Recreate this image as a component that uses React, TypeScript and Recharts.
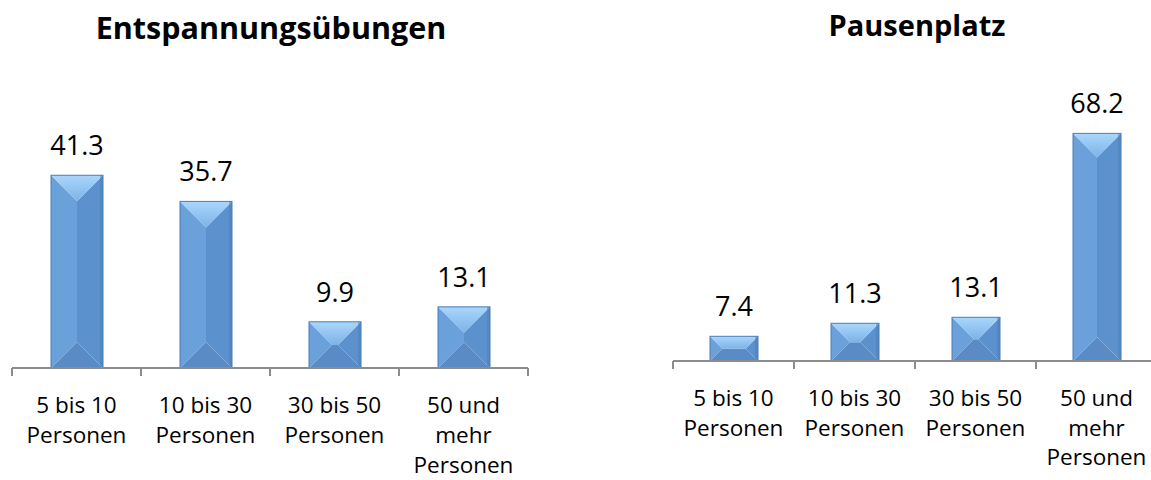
import React from 'react';
import { BarChart, Bar, XAxis, YAxis, LabelList } from 'recharts';

const categories = ['5 bis 10 Personen', '10 bis 30 Personen', '30 bis 50 Personen', '50 und mehr Personen'];
const categoryLines = [
  ['5 bis 10', 'Personen'],
  ['10 bis 30', 'Personen'],
  ['30 bis 50', 'Personen'],
  ['50 und', 'mehr', 'Personen'],
];
const entspannungValues = [41.3, 35.7, 9.9, 13.1];
const pausenplatzValues = [7.4, 11.3, 13.1, 68.2];
const chartTitles = ['Entspannungsübungen', 'Pausenplatz'];

const leftData = categories.map((c, i) => ({ category: c, value: entspannungValues[i] }));
const rightData = categories.map((c, i) => ({ category: c, value: pausenplatzValues[i] }));

const FONT = '"Open Sans", sans-serif';
const AXIS_COLOR = '#8c8c8c';
const TICK_SIZE = 8;

const BevelBar = (props: any) => {
  const { x, y, width, height } = props;
  if (!width || !height || height <= 0) return null;
  const d = Math.min(width, height) / 2;
  const x2 = x + width;
  const y2 = y + height;
  const top = `${x},${y} ${x2},${y} ${x2 - d},${y + d} ${x + d},${y + d}`;
  const right = `${x2},${y} ${x2},${y2} ${x2 - d},${y2 - d} ${x2 - d},${y + d}`;
  const bottom = `${x},${y2} ${x2},${y2} ${x2 - d},${y2 - d} ${x + d},${y2 - d}`;
  const left = `${x},${y} ${x},${y2} ${x + d},${y2 - d} ${x + d},${y + d}`;
  return (
    <g>
      <polygon points={left} fill="#6aa1da" />
      <polygon points={right} fill="#5b91cc" />
      <polygon points={bottom} fill="#5a8bc4" />
      <polygon points={top} fill="url(#bevelTop)" />
      <rect x={x + width - 3} y={y} width={3} height={height} fill="#4f7fb6" opacity={0.5} />
      <rect x={x} y={y} width={width} height={height} fill="none" stroke="#4a7db8" strokeWidth={1} />
    </g>
  );
};

const makeTick = (lineHeight: number) => (props: any) => {
  const { x, y, payload, visibleTicksCount } = props;
  const idx = categories.indexOf(payload.value);
  const lines = idx >= 0 ? categoryLines[idx] : [String(payload.value)];
  const half = payload.offset ?? 60;
  const axisY = y - TICK_SIZE;
  const isLast = idx === (visibleTicksCount ?? categories.length) - 1;
  return (
    <g>
      <line x1={x - half} x2={x - half} y1={axisY} y2={axisY + TICK_SIZE} stroke={AXIS_COLOR} strokeWidth={2} />
      {isLast && (
        <line x1={x + half} x2={x + half} y1={axisY} y2={axisY + TICK_SIZE} stroke={AXIS_COLOR} strokeWidth={2} />
      )}
      <text x={x} y={axisY + 45} textAnchor="middle" fontFamily={FONT} fontSize={22.5} fill="#000">
        {lines.map((l, i) => (
          <tspan key={i} x={x} dy={i === 0 ? 0 : lineHeight}>
            {l}
          </tspan>
        ))}
      </text>
    </g>
  );
};

const Defs = () => (
  <svg width={0} height={0} style={{ position: 'absolute' }}>
    <defs>
      <linearGradient id="bevelTop" x1="0" y1="0" x2="0" y2="1">
        <stop offset="0%" stopColor="#a9d6fc" />
        <stop offset="100%" stopColor="#7db3e8" />
      </linearGradient>
    </defs>
  </svg>
);

const valueFormat = (v: any) => Number(v).toFixed(1);

export default function App() {
  return (
    <div style={{ position: 'absolute', left: 0, top: 0, width: 1151, height: 480, overflow: 'hidden', background: '#fff' }}>
      <Defs />
      <div style={{ position: 'absolute', left: 0, top: 0, width: 560, height: 480 }}>
        <BarChart width={560} height={480} data={leftData} margin={{ top: 158, right: 32, bottom: 0, left: 12 }} barSize={52}>
          <XAxis
            dataKey="category"
            height={112}
            interval={0}
            tickSize={TICK_SIZE}
            tickMargin={0}
            tickLine={false}
            axisLine={{ stroke: AXIS_COLOR, strokeWidth: 2 }}
            tick={makeTick(30)}
          />
          <YAxis hide domain={[0, 45]} />
          <Bar dataKey="value" shape={<BevelBar />} isAnimationActive={false}>
            <LabelList dataKey="value" position="top" offset={20} formatter={valueFormat} fontFamily={FONT} fontSize={27} fill="#000" />
          </Bar>
        </BarChart>
      </div>
      <div style={{ position: 'absolute', left: 660, top: 0, width: 491, height: 480, overflow: 'hidden' }}>
        <BarChart width={500} height={480} data={rightData} margin={{ top: 94, right: 3, bottom: 0, left: 13 }} barSize={48}>
          <XAxis
            dataKey="category"
            height={119}
            interval={0}
            tickSize={TICK_SIZE}
            tickMargin={0}
            tickLine={false}
            axisLine={{ stroke: AXIS_COLOR, strokeWidth: 2 }}
            tick={makeTick(29.5)}
          />
          <YAxis hide domain={[0, 80]} />
          <Bar dataKey="value" shape={<BevelBar />} isAnimationActive={false}>
            <LabelList dataKey="value" position="top" offset={20} formatter={valueFormat} fontFamily={FONT} fontSize={27} fill="#000" />
          </Bar>
        </BarChart>
      </div>
      <svg width={1151} height={480} style={{ position: 'absolute', left: 0, top: 0, pointerEvents: 'none' }}>
        <text x={271} y={39} textAnchor="middle" fontFamily={FONT} fontWeight="bold" fontSize={30.5} fill="#000">
          {chartTitles[0]}
        </text>
        <text x={917} y={36} textAnchor="middle" fontFamily={FONT} fontWeight="bold" fontSize={29} fill="#000">
          {chartTitles[1]}
        </text>
      </svg>
    </div>
  );
}
